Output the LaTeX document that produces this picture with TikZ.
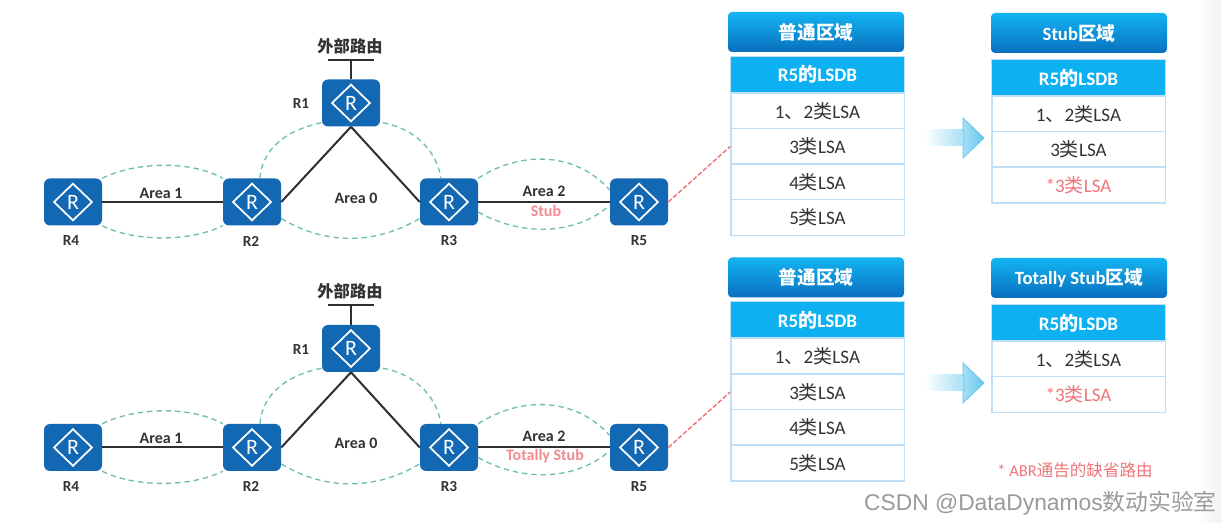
\documentclass[tikz,border=0pt]{standalone}
\usepackage{fontspec}
\setmainfont{Carlito}
\newfontfamily\cjk{Noto Sans CJK SC}
\newfontfamily\wmfont{Liberation Sans}
\usetikzlibrary{shapes.geometric}
\definecolor{routerblue}{HTML}{1268B3}
\definecolor{dashteal}{HTML}{6FBDB0}
\definecolor{linkdark}{HTML}{2F2F2F}
\definecolor{txtdark}{HTML}{333333}
\definecolor{redsoft}{HTML}{F0757A}
\definecolor{cellline}{HTML}{BFDFF6}
\definecolor{headtop}{HTML}{12B4F2}
\definecolor{headbot}{HTML}{0A6FBE}
\definecolor{rowblue}{HTML}{0DB0F0}
\definecolor{arrowblue}{HTML}{67C6EC}
\definecolor{arrowpale}{HTML}{A6E0F6}
\definecolor{wm}{HTML}{9A9A9A}
\newcommand{\zh}[1]{{\cjk #1}}
\tikzset{
  router/.style={rectangle,rounded corners=4.5pt,fill=routerblue,draw=none,minimum width=43.5pt,minimum height=35.25pt,inner sep=0pt},
  rdiamond/.style={diamond,draw=white,line width=1.3pt,minimum width=29pt,minimum height=28pt,inner sep=0pt,aspect=1,font=\fontsize{16.5}{16}\selectfont,text=white},
  rname/.style={font=\fontsize{11.5}{12}\selectfont\bfseries,text=txtdark,inner sep=0pt},
  arealabel/.style={font=\fontsize{12}{12}\selectfont\bfseries,text=txtdark,inner sep=0pt},
  redlabel/.style={font=\fontsize{12}{12}\selectfont\bfseries,text=redsoft!85,inner sep=0pt},
  link/.style={draw=linkdark,line width=1.5pt},
  areadash/.style={draw=dashteal,line width=1pt,dash pattern=on 4pt off 3pt},
  reddash/.style={draw=redsoft,line width=1.1pt,dash pattern=on 3.5pt off 1.5pt},
  tabhead/.style={rectangle,rounded corners=3pt,top color=headtop,bottom color=headbot,draw=none,minimum width=132pt,minimum height=30pt,inner sep=0pt,text=white,font=\fontsize{14}{16}\selectfont\bfseries},
  tabtitle/.style={rectangle,fill=rowblue,draw=cellline,line width=.9pt,minimum width=130pt,minimum height=27.5pt,inner sep=0pt,text=white,font=\fontsize{14.3}{15}\selectfont\bfseries},
  tabcell/.style={rectangle,fill=white,draw=cellline,line width=1pt,minimum width=130pt,minimum height=26.8pt,inner sep=0pt,text=txtdark,font=\fontsize{14.3}{15}\selectfont},
  redcell/.style={tabcell,text=redsoft},
}
\newcommand{\routerat}[3]{%
  \node[router] (#1) at (#2,#3) {};
  \node[rdiamond] (#1d) at (#1) {R};
}
\newcommand{\flow}[2]{%
  \shade[left color=white,right color=arrowpale,draw=none]
    (925,#2-8) rectangle (964,#2+8);
  \shade[left color=arrowpale,right color=arrowblue,draw=arrowblue,line width=.6pt]
    (963,#2-20) -- (984,#2) -- (963,#2+20) -- (963,#2+8) -- (964,#2+8) -- (964,#2-8) -- (963,#2-8) -- cycle;
}
\newcommand{\network}[2]{%
  % #1 prefix, #2 vertical offset
  \routerat{#1a}{351}{103+#2}
  \routerat{#1b}{252}{202+#2}
  \routerat{#1c}{449}{202+#2}
  \routerat{#1d}{73}{202+#2}
  \routerat{#1e}{639}{202+#2}
  \coordinate (#1t) at (351,60+#2);
  \coordinate (#1tl) at (328,60+#2);
  \coordinate (#1tr) at (374,60+#2);
  \draw[link] (#1tl) -- (#1tr);
  \draw[link] (#1t) -- (#1a.north);
  \draw[link] (#1a.south) -- (#1b.east);
  \draw[link] (#1a.south) -- (#1c.west);
  \draw[link] (#1d.east) -- (#1b.west);
  \draw[link] (#1c.east) -- (#1e.west);
  \draw[areadash] (#1d.north east) .. controls (135,162+#2) and (190,160+#2) .. (#1b.north west);
  \draw[areadash] (#1d.south east) .. controls (135,242+#2) and (190,242+#2) .. (#1b.south west);
  \draw[areadash] ([xshift=6pt]#1b.north) .. controls (262,150+#2) and (285,130+#2) .. ([yshift=3pt]#1a.south west);
  \draw[areadash] ([yshift=3pt,xshift=2pt]#1a.south east) .. controls (412,128+#2) and (436,148+#2) .. ([xshift=-6pt]#1c.north);
  \draw[areadash] ([yshift=5.5pt]#1b.south east) .. controls (325,245+#2) and (375,245+#2) .. ([yshift=5.5pt]#1c.south west);
  \draw[areadash] (#1c.north east) .. controls (520,151+#2) and (575,151+#2) .. ([yshift=9pt]#1e.west);
  \draw[areadash] ([yshift=-7.5pt]#1c.east) .. controls (520,236+#2) and (575,236+#2) .. ([yshift=-2.5pt]#1e.west);
  \node[font=\fontsize{12.2}{14}\selectfont\bfseries\cjk,text=txtdark,inner sep=0pt] (#1ext) at (350,46+#2) {外部路由};
  \node[rname] (#1ra) at (301,104+#2) {R1};
  \node[rname] (#1rb) at (251,241+#2) {R2};
  \node[rname] (#1rc) at (449,241+#2) {R3};
  \node[rname] (#1rd) at (71,241+#2) {R4};
  \node[rname] (#1re) at (639,241+#2) {R5};
  \node[arealabel] (#1la) at (161,193+#2) {Area 1};
  \node[arealabel] (#1lb) at (356,198+#2) {Area 0};
  \node[arealabel] (#1lc) at (544,191+#2) {Area 2};
}
\begin{document}
\begin{tikzpicture}[x=0.75pt,y=-0.75pt]
\useasboundingbox (0,0) rectangle (1221,523);
\fill[white] (0,0) rectangle (1221,523);
\shade[left color=white,right color=black!5,draw=none] (1198,0) rectangle (1221,523);

\network{p}{0}
\node[redlabel] (pstub) at (546,211) {Stub};
\network{q}{245.5}
\node[redlabel] (qstub) at (545,456.5) {Totally Stub};

% top left table
\node[tabhead] (h1) at (816,32) {\zh{普通区域}};
\node[tabtitle] (t1a) at (817.5,74.5) {R5\zh{的}LSDB};
\node[tabcell] (t1b) at (817.5,111) {1\zh{、}2\zh{类}LSA};
\node[tabcell] (t1c) at (817.5,146.5) {3\zh{类}LSA};
\node[tabcell] (t1d) at (817.5,182) {4\zh{类}LSA};
\node[tabcell] (t1e) at (817.5,217.5) {5\zh{类}LSA};
% top right table
\node[tabhead] (h2) at (1079,33) {Stub\zh{区域}};
\node[tabtitle] (t2a) at (1078.5,78) {R5\zh{的}LSDB};
\node[tabcell] (t2b) at (1078.5,114) {1\zh{、}2\zh{类}LSA};
\node[tabcell] (t2c) at (1078.5,149.5) {3\zh{类}LSA};
\node[redcell] (t2d) at (1078.5,185) {*3\zh{类}LSA};
% bottom left table
\node[tabhead] (h3) at (816,277.5) {\zh{普通区域}};
\node[tabtitle] (t3a) at (817.5,320) {R5\zh{的}LSDB};
\node[tabcell] (t3b) at (817.5,356) {1\zh{、}2\zh{类}LSA};
\node[tabcell] (t3c) at (817.5,392) {3\zh{类}LSA};
\node[tabcell] (t3d) at (817.5,427.5) {4\zh{类}LSA};
\node[tabcell] (t3e) at (817.5,463) {5\zh{类}LSA};
% bottom right table
\node[tabhead] (h4) at (1079,278) {Totally Stub\zh{区域}};
\node[tabtitle] (t4a) at (1078.5,323) {R5\zh{的}LSDB};
\node[tabcell] (t4b) at (1078.5,359) {1\zh{、}2\zh{类}LSA};
\node[redcell] (t4c) at (1078.5,394.5) {*3\zh{类}LSA};

\draw[reddash] (pe.east) -- (t1c.west);
\draw[reddash] (qe.east) -- (t3c.west);

\flow{1}{138}
\flow{2}{383}

\node[font=\fontsize{12.4}{14}\selectfont,text=redsoft,inner sep=0pt] (note) at (1075,470) {* ABR\zh{通告的缺省路由}};
\node[font=\fontsize{17.1}{18}\selectfont\wmfont,text=wm,inner sep=0pt,anchor=east] (mark) at (1217,503) {CSDN @DataDynamos\zh{数动实验室}};
\end{tikzpicture}
\end{document}
